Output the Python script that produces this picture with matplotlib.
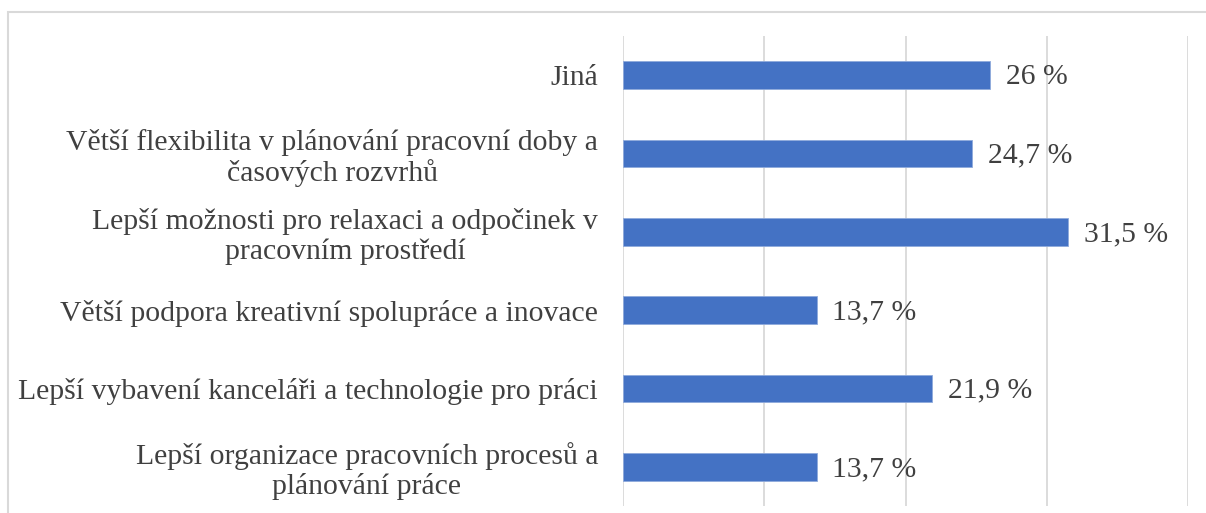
import matplotlib
matplotlib.use("Agg")
import matplotlib.pyplot as plt
from matplotlib.patches import Rectangle

categories = [
    "Lepší organizace pracovních procesů a\nplánování práce",
    "Lepší vybavení kanceláři a technologie pro práci",
    "Větší podpora kreativní spolupráce a inovace",
    "Lepší možnosti pro relaxaci a odpočinek v\npracovním prostředí",
    "Větší flexibilita v plánování pracovní doby a\nčasových rozvrhů",
    "Jiná",
]
values = [13.7, 21.9, 13.7, 31.5, 24.7, 26.0]
value_labels = ["13,7 %", "21,9 %", "13,7 %", "31,5 %", "24,7 %", "26 %"]

plt.rcParams['font.family'] = ['Liberation Serif', 'DejaVu Serif']

fig = plt.figure(figsize=(12.06, 5.13), dpi=100)
fig.patch.set_facecolor('white')
ax = fig.add_axes([623/1206, 1 - 506/513, (1188 - 623)/1206, (506 - 36)/513])

y = list(range(len(categories)))
ax.barh(y, values, height=0.35, color='#4472C4', edgecolor='#8FAADC', linewidth=0.6, zorder=3)
ax.set_xlim(0, 40)
ax.set_ylim(-0.5, len(categories) - 0.5)
ax.set_xticks([0, 10, 20, 30, 40])
ax.xaxis.grid(True, color='#D9D9D9', linewidth=1.3, zorder=0)
ax.tick_params(axis='x', length=0, labelbottom=False)
ax.tick_params(axis='y', length=0, pad=18, labelsize=21.4, labelcolor='#404040')
ax.set_yticks(y)
ax.set_yticklabels(categories, multialignment='center', linespacing=1.15)
for s in ax.spines.values():
    s.set_visible(False)

for yi, v, lab in zip(y, values, value_labels):
    ax.annotate(lab, (v, yi), xytext=(11.5, -1.5), textcoords='offset points',
                ha='left', va='center', fontsize=21.4, color='#404040')

fig.patches.append(Rectangle((8/1206, -0.1), 1.2, 1 - 12/513 + 0.1, transform=fig.transFigure,
                             fill=False, edgecolor='#D9D9D9', linewidth=1.5, zorder=0))

fig.savefig('out.png', dpi=100)
